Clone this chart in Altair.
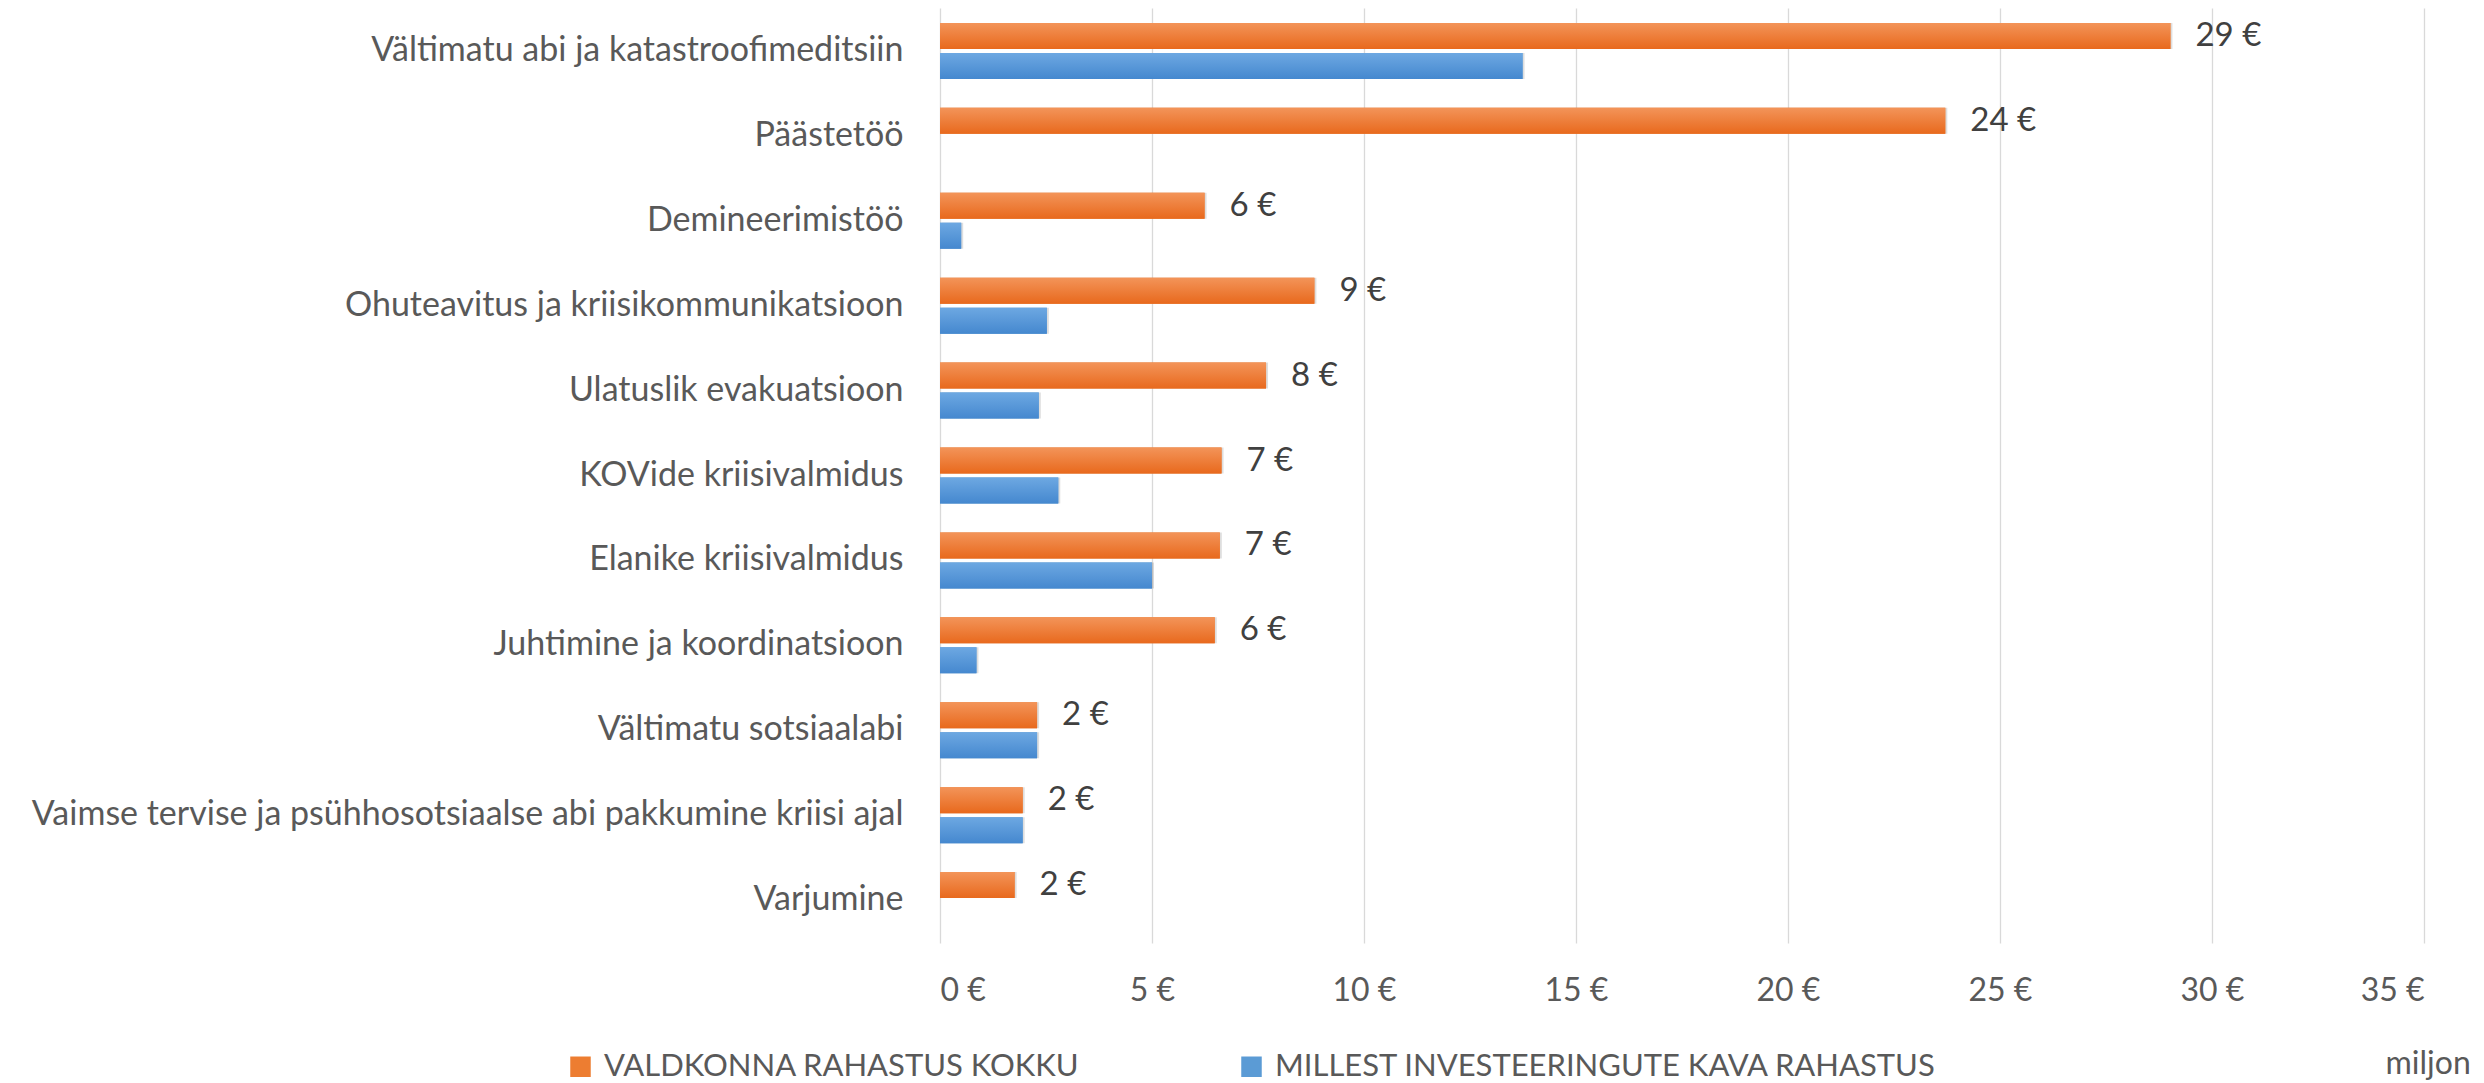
import altair as alt
import pandas as pd

categories = [
    "Vältimatu abi ja katastroofimeditsiin",
    "Päästetöö",
    "Demineerimistöö",
    "Ohuteavitus ja kriisikommunikatsioon",
    "Ulatuslik evakuatsioon",
    "KOVide kriisivalmidus",
    "Elanike kriisivalmidus",
    "Juhtimine ja koordinatsioon",
    "Vältimatu sotsiaalabi",
    "Vaimse tervise ja psühhosotsiaalse abi pakkumine kriisi ajal",
    "Varjumine",
]
total = [29.02, 23.71, 6.24, 8.83, 7.69, 6.64, 6.60, 6.48, 2.29, 1.95, 1.76]
investments = [13.74, 0.0, 0.50, 2.52, 2.33, 2.79, 5.00, 0.86, 2.29, 1.95, 0.0]
series_names = ["VALDKONNA RAHASTUS KOKKU", "MILLEST INVESTEERINGUTE KAVA RAHASTUS"]
series_colors = ["#ED7D31", "#5B9BD5"]
x_ticks = [0, 5, 10, 15, 20, 25, 30, 35]
unit_label = "miljon"

rows = []
for c, t, i in zip(categories, total, investments):
    rows.append({"cat": c, "series": series_names[0], "value": t})
    rows.append({"cat": c, "series": series_names[1], "value": i})
df = pd.DataFrame(rows)

FONT = "Lato"
TXT = "#595959"

y_enc = alt.Y(
    "cat:N",
    sort=categories,
    scale=alt.Scale(paddingInner=0.341, paddingOuter=0.176),
    axis=alt.Axis(
        title=None, labelFontSize=34, labelColor=TXT, labelFont=FONT,
        labelPadding=37, ticks=False, domain=False, grid=False, labelLimit=0,
    ),
)
yoff = alt.YOffset(
    "series:N", sort=series_names,
    scale=alt.Scale(paddingInner=0.133, paddingOuter=0),
)
x_enc = alt.X(
    "value:Q",
    scale=alt.Scale(domain=[0, 35], nice=False),
    axis=alt.Axis(
        values=x_ticks, labelExpr="datum.value + ' €'", grid=True,
        gridColor="#D9D9D9", gridWidth=1.3, ticks=False, domain=False,
        labelFontSize=32, labelColor=TXT, labelFont=FONT,
        labelBaseline="middle", labelPadding=47,
        title=unit_label, titleFont=FONT, titleFontSize=32,
        titleFontWeight="normal", titleColor=TXT, titleX=1445, titleY=120,
        titleAlign="left", titleBaseline="middle",
    ),
)

base = alt.Chart(df).encode(y=y_enc, yOffset=yoff, x=x_enc)

shadow = base.mark_bar(color="#000000", opacity=0.13, xOffset=2, yOffset=4)

bars = base.mark_bar().encode(
    color=alt.Color(
        "series:N", sort=series_names,
        scale=alt.Scale(domain=series_names, range=series_colors),
        legend=alt.Legend(
            title=None, orient="none", legendX=-375, legendY=1043,
            direction="horizontal", symbolType="square", symbolSize=420,
            labelFontSize=31, labelFont=FONT, labelColor=TXT,
            columnPadding=156, labelOffset=8, symbolStrokeWidth=0, labelLimit=0,
        ),
    )
)

def grad(top, bottom):
    return alt.Gradient(
        gradient="linear",
        stops=[alt.GradientStop(color=top, offset=0), alt.GradientStop(color=bottom, offset=1)],
        x1=0, x2=0, y1=0, y2=1,
    )

grad_o = base.transform_filter(alt.datum.series == series_names[0]).mark_bar(
    fill=grad("#F39459", "#E8691D")
)
grad_b = base.transform_filter(alt.datum.series == series_names[1]).mark_bar(
    fill=grad("#6DA8E2", "#4588CF")
)

labels = base.transform_filter(alt.datum.series == series_names[0]).transform_calculate(
    lbl="format(datum.value, '.0f') + ' €'"
).mark_text(
    align="left", baseline="middle", dx=25, font=FONT, fontSize=33, color="#404040"
).encode(text="lbl:N")

chart = alt.layer(shadow, bars, grad_o, grad_b, labels).properties(
    width=1484, height=935,
    autosize=alt.AutoSizeParams(type="none"),
    padding={"left": 932, "top": 0, "right": 52, "bottom": 150},
).configure_view(stroke="transparent")

chart.save("out.html", embed_options={"renderer": "svg", "actions": False})
